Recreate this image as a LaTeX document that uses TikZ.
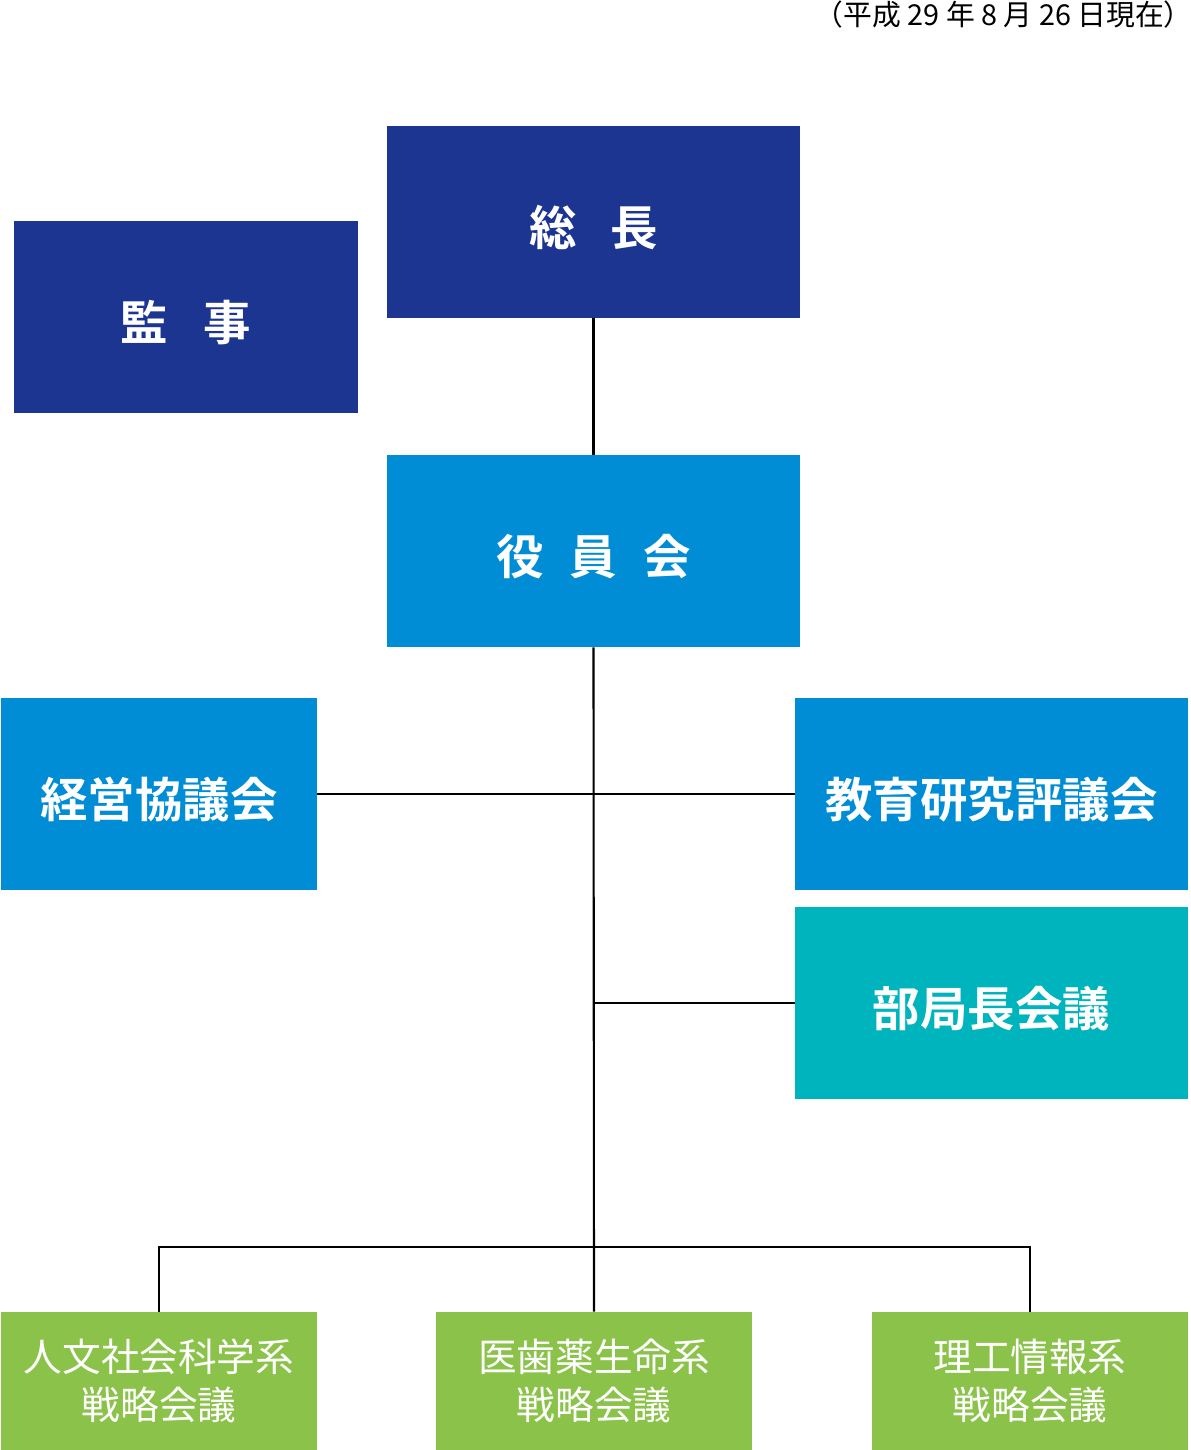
\documentclass[tikz,border=0pt]{standalone}
\usepackage{fontspec}
\setmainfont{Noto Sans CJK JP}[BoldFont={Noto Sans CJK JP Bold}]
\definecolor{navy}{HTML}{1B3591}
\definecolor{sky}{HTML}{008DD6}
\definecolor{teal}{HTML}{00B4BD}
\definecolor{leaf}{HTML}{8BC34A}
\tikzset{
  unit/.style={inner sep=0pt,text=white,font=\bfseries\fontsize{27}{32}\selectfont,text height=26.5pt,text depth=0pt,minimum height=3.84cm},
  wing/.style={inner sep=0pt,text=white,align=center,font=\fontsize{22}{27.2}\selectfont,fill=leaf,minimum width=6.32cm,minimum height=2.76cm},
  link/.style={line width=1.2pt}
}
\begin{document}
\begin{tikzpicture}[x=0.02cm,y=-0.02cm]
    \useasboundingbox (0,0) rectangle (1190,1450);
    \node[anchor=east,font=\fontsize{16.4}{18}\selectfont] (date) at (1199,15) {（平成 29 年 8 月 26 日現在）};

    \node[unit,fill=navy,minimum width=8.26cm] (chief) at (593.5,222) {総\hspace{0.7em}長};
    \node[unit,fill=navy,minimum width=6.88cm] (audit) at (186,317) {監\hspace{0.75em}事};
    \node[unit,fill=sky,minimum width=8.26cm] (board) at (593.5,551) {役\hspace{0.55em}員\hspace{0.55em}会};
    \node[unit,fill=sky,minimum width=6.32cm] (mgmt) at (159,794) {経営協議会};
    \node[unit,fill=sky,minimum width=7.86cm] (senate) at (991.5,794) {教育研究評議会};
    \node[unit,fill=teal,minimum width=7.86cm] (deans) at (991.5,1003) {部局長会議};

    \node[wing] (hum) at (159,1381) {人文社会科学系\\戦略会議};
    \node[wing] (med) at (594,1381) {医歯薬生命系\\戦略会議};
    \node[wing] (sci) at (1030,1381) {理工情報系\\戦略会議};

    \coordinate (split) at (594,1247);
    \draw[link] (chief.south) -- (board.north);
    \draw[link] (board.south) -- (med.north);
    \draw[link] (mgmt.east) -- (senate.west);
    \draw[link] (board.south |- deans.west) -- (deans.west);
    \draw[link] (hum.north) |- (split) -| (sci.north);

  \end{tikzpicture}
\end{document}
